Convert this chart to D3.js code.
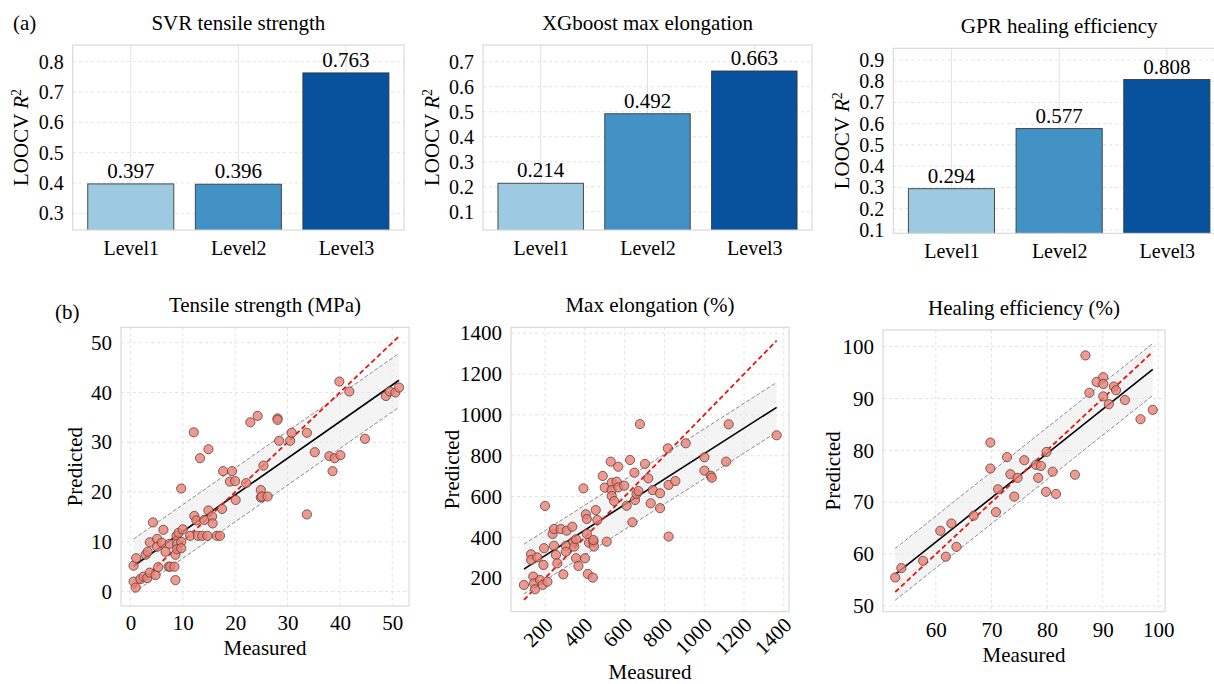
<!DOCTYPE html>
<meta charset="utf-8">
<script src="https://cdn.jsdelivr.net/npm/d3@7"></script>
<style>
body{margin:0;background:#fff;}
svg{font-family:"Liberation Serif","Times New Roman",serif;}
.title{font-size:21px;text-anchor:middle;fill:#000;}
.axis-label{font-size:21px;text-anchor:middle;fill:#000;}
.val{font-size:21px;text-anchor:middle;fill:#000;}
.tag{font-size:21px;fill:#000;}
</style>
<body>
<div id="vis"></div>
<script>

// ---- (a) LOOCV R2 by level ----
var levels = ["Level1", "Level2", "Level3"];
var svrTensile = [0.397, 0.396, 0.763];
var xgbElongation = [0.214, 0.492, 0.663];
var gprHealing = [0.294, 0.577, 0.808];
var barColors = ["#9ecae1", "#4292c6", "#08519c"];

var ticksA1 = [0.3, 0.4, 0.5, 0.6, 0.7, 0.8];
var ticksA2 = [0.1, 0.2, 0.3, 0.4, 0.5, 0.6, 0.7];
var ticksA3 = [0.1, 0.2, 0.3, 0.4, 0.5, 0.6, 0.7, 0.8, 0.9];

// ---- (b) measured vs predicted ----
var tensileMeasured = [0.6,1.1,0.6,1.0,1.9,2.5,3.2,3.7,2.9,3.3,3.7,4.3,4.8,5.1,5.1,5.3,6.0,6.3,6.7,7.3,7.6,7.5,8.4,8.6,8.6,8.8,8.9,8.9,9.2,9.7,9.7,9.7,10.0,11.4,12.1,12.2,12.6,12.9,13.3,13.7,14.1,14.7,14.9,14.9,15.6,15.7,16.5,17.1,17.5,17.7,19.0,19.4,20.0,20.1,22.1,22.9,24.3,24.9,24.9,25.1,25.4,26.2,28.1,28.1,28.4,30.5,30.8,33.7,33.7,35.2,38.0,38.6,39.0,39.9,40.1,41.8,44.8,48.8,49.5,50.6,51.3];
var tensilePredicted = [5.2,6.7,2.0,0.8,2.5,3.0,2.7,3.8,7.4,8.0,9.9,13.9,3.3,10.6,9.0,4.9,9.8,12.4,8.0,5.0,5.0,9.6,5.0,7.4,2.3,11.2,9.6,8.5,11.8,10.0,8.7,20.7,12.5,11.2,32.0,15.2,14.3,11.2,26.8,11.2,14.4,11.2,28.6,16.3,15.1,13.7,11.2,11.2,16.6,24.2,22.1,24.2,22.2,18.4,21.8,34.0,35.3,20.4,18.9,19.1,25.3,19.1,34.8,34.5,30.3,30.3,31.9,31.9,15.5,28.0,27.2,24.2,26.8,42.2,27.4,40.2,30.7,39.3,40.2,40.0,41.0];
var tensileFit = [0.736, 4.7, 5.4];   // slope, intercept, band half width

var elongMeasured = [94,130,130,161,141,145,150,175,192,195,188,212,200,238,245,245,255,262,279,292,305,305,309,337,342,347,356,356,368,393,401,405,410,410,415,421,440,443,446,443,455,463,490,500,510,530,535,535,535,547,560,568,568,598,610,627,639,649,652,660,669,677,702,719,731,741,778,778,817,821,821,855,907,1001,1001,1033,1038,1110,1123,1364];
var elongPredicted = [167,317,289,302,208,175,146,191,265,347,167,183,554,417,441,359,314,273,441,219,359,330,433,452,379,355,391,298,260,640,298,513,490,417,221,374,203,379,355,387,534,485,701,644,379,771,668,632,603,578,673,746,645,653,555,779,474,717,583,613,627,955,760,689,567,632,616,543,836,657,404,676,861,792,727,702,692,771,954,900];
var elongFit = [0.624, 186, 122];

var healMeasured = [52.7,53.8,57.7,60.8,61.8,62.8,63.7,66.8,69.8,69.8,70.8,71.2,72.8,73.4,74.1,74.7,75.9,78.0,78.4,78.9,79.8,79.9,81.0,81.6,85.0,86.9,87.6,88.9,90.1,90.1,90.1,91.1,92.0,92.4,94.0,96.8,99.0];
var healPredicted = [55.5,57.3,58.7,64.5,59.5,65.9,61.4,67.4,81.5,76.5,68.1,72.5,78.7,75.4,71.1,74.7,78.1,77.2,74.7,77.0,72.0,79.7,75.9,71.6,75.3,98.3,91.1,93.2,94.1,92.8,90.4,88.9,92.3,91.6,89.7,86.0,87.8];
var healFit = [0.853, 11.15, 5.0];

var ticksTensile = [0, 10, 20, 30, 40, 50];
var ticksElong = [200, 400, 600, 800, 1000, 1200, 1400];
var ticksHealX = [60, 70, 80, 90, 100];
var ticksHealY = [50, 60, 70, 80, 90, 100];

var W = 1214, H = 684;
var svg = d3.select("#vis").append("svg")
    .attr("width", W).attr("height", H);
svg.append("rect").attr("width", W).attr("height", H).attr("fill", "#fff");

var frameColor = "#d2d2d2", gridColor = "#e2e2e2";
var clipId = 0;

function addClip(l, t, r, b) {
  var id = "clip" + (clipId++);
  svg.append("clipPath").attr("id", id)
    .append("rect").attr("x", l).attr("y", t).attr("width", r - l).attr("height", b - t);
  return "url(#" + id + ")";
}

function styleAxis(g, size) {
  g.select(".domain").remove();
  g.attr("font-family", null);
  g.selectAll("text").attr("font-size", size).attr("fill", "#000");
}

function yLabelR2(cx, cy) {
  var t = svg.append("text").attr("class", "axis-label")
    .attr("transform", "translate(" + cx + "," + cy + ") rotate(-90)")
    .attr("dy", "0.35em");
  t.append("tspan").text("LOOCV ");
  t.append("tspan").attr("font-style", "italic").text("R");
  t.append("tspan").attr("font-size", 14).attr("dy", "-0.55em").text("2");
}

function barPanel(p) {
  var x = d3.scaleLinear().domain([-0.54, 2.54]).range([p.left, p.right]);
  var y = d3.scaleLinear().domain(p.ydom).range([p.bottom, p.top]);
  var g = svg.append("g");

  // grid
  g.selectAll(".gy").data(p.yticks).enter().append("line")
    .attr("x1", p.left).attr("x2", p.right)
    .attr("y1", function(d) { return y(d); }).attr("y2", function(d) { return y(d); })
    .attr("stroke", gridColor).attr("stroke-dasharray", "3,3");
  g.selectAll(".gx").data(levels).enter().append("line")
    .attr("x1", function(d, i) { return x(i); }).attr("x2", function(d, i) { return x(i); })
    .attr("y1", p.top).attr("y2", p.bottom)
    .attr("stroke", gridColor);

  // bars
  g.append("g").attr("clip-path", addClip(p.left, p.top, p.right, p.bottom))
    .selectAll("rect").data(p.values).enter().append("rect")
    .attr("x", function(d, i) { return x(i - 0.4); })
    .attr("width", x(0.4) - x(-0.4))
    .attr("y", function(d) { return y(d); })
    .attr("height", function(d) { return p.bottom + 5 - y(d); })
    .attr("fill", function(d, i) { return barColors[i]; })
    .attr("stroke", "#3a3a3a").attr("stroke-width", 0.9);

  g.selectAll(".val").data(p.values).enter().append("text")
    .attr("class", "val")
    .attr("x", function(d, i) { return x(i); })
    .attr("y", function(d) { return y(d) - 6; })
    .text(function(d) { return d3.format(".3f")(d); });

  g.append("rect").attr("x", p.left).attr("y", p.top)
    .attr("width", p.right - p.left).attr("height", p.bottom - p.top)
    .attr("fill", "none").attr("stroke", frameColor);

  var ax = g.append("g").attr("transform", "translate(0," + p.bottom + ")")
    .call(d3.axisBottom(x).tickValues([0, 1, 2]).tickSize(0).tickPadding(11)
      .tickFormat(function(i) { return levels[i]; }));
  styleAxis(ax, 20);
  var ay = g.append("g").attr("transform", "translate(" + p.left + ",0)")
    .call(d3.axisLeft(y).tickValues(p.yticks).tickSize(0).tickPadding(9).tickFormat(d3.format(".1f")));
  styleAxis(ay, 20);

  svg.append("text").attr("class", "title")
    .attr("x", (p.left + p.right) / 2)
    .attr("y", p.top - 15).text(p.title);
  yLabelR2(p.ylx, (p.top + p.bottom) / 2);
}

function scatterPanel(p) {
  var x = d3.scaleLinear().domain(p.xdom).range([p.left, p.right]);
  var y = d3.scaleLinear().domain(p.ydom).range([p.bottom, p.top]);
  var g = svg.append("g");

  g.selectAll(".gx").data(p.xticks).enter().append("line")
    .attr("x1", function(d) { return x(d); }).attr("x2", function(d) { return x(d); })
    .attr("y1", p.top).attr("y2", p.bottom)
    .attr("stroke", gridColor).attr("stroke-dasharray", "3,3");
  g.selectAll(".gy").data(p.yticks).enter().append("line")
    .attr("x1", p.left).attr("x2", p.right)
    .attr("y1", function(d) { return y(d); }).attr("y2", function(d) { return y(d); })
    .attr("stroke", gridColor).attr("stroke-dasharray", "3,3");

  var inner = g.append("g").attr("clip-path", addClip(p.left, p.top, p.right, p.bottom));
  var ext = d3.extent(p.measured);
  var fit = function(v) { return p.fit[0] * v + p.fit[1]; };

  // prediction band
  inner.append("path").datum(ext)
    .attr("d", d3.area().x(function(d) { return x(d); })
      .y0(function(d) { return y(fit(d) - p.fit[2]); })
      .y1(function(d) { return y(fit(d) + p.fit[2]); }))
    .attr("fill", "#e6e6e6").attr("fill-opacity", 0.45);
  [-1, 1].forEach(function(s) {
    inner.append("path").datum(ext)
      .attr("d", d3.line().x(function(d) { return x(d); })
        .y(function(d) { return y(fit(d) + s * p.fit[2]); }))
      .attr("fill", "none").attr("stroke", "#8a8a8a").attr("stroke-width", 1)
      .attr("stroke-dasharray", "4,2");
  });
  // fit line
  inner.append("path").datum(ext)
    .attr("d", d3.line().x(function(d) { return x(d); }).y(function(d) { return y(fit(d)); }))
    .attr("fill", "none").attr("stroke", "#000").attr("stroke-width", 1.6);
  // y = x
  inner.append("path").datum(ext)
    .attr("d", d3.line().x(function(d) { return x(d); }).y(function(d) { return y(d); }))
    .attr("fill", "none").attr("stroke", "#e8150f").attr("stroke-width", 1.8)
    .attr("stroke-dasharray", "5,3");

  inner.selectAll("circle").data(p.measured).enter().append("circle")
    .attr("cx", function(d) { return x(d); })
    .attr("cy", function(d, i) { return y(p.predicted[i]); })
    .attr("r", 4.6)
    .attr("fill", "#ec7f72").attr("fill-opacity", 0.8)
    .attr("stroke", "#5a4040").attr("stroke-width", 0.8);

  g.append("rect").attr("x", p.left).attr("y", p.top)
    .attr("width", p.right - p.left).attr("height", p.bottom - p.top)
    .attr("fill", "none").attr("stroke", frameColor);

  var ax = g.append("g").attr("transform", "translate(0," + p.bottom + ")")
    .call(d3.axisBottom(x).tickValues(p.xticks).tickSize(0).tickPadding(p.xpad).tickFormat(d3.format("d")));
  styleAxis(ax, 21);
  if (p.rotate) {
    ax.selectAll("text").attr("text-anchor", "end")
      .attr("transform", "rotate(-45)").attr("dx", "-0.2em").attr("dy", "0.5em");
  }
  var ay = g.append("g").attr("transform", "translate(" + p.left + ",0)")
    .call(d3.axisLeft(y).tickValues(p.yticks).tickSize(0).tickPadding(9).tickFormat(d3.format("d")));
  styleAxis(ay, 21);

  svg.append("text").attr("class", "title")
    .attr("x", (p.left + p.right) / 2).attr("y", p.top - 15).text(p.title);
  svg.append("text").attr("class", "axis-label")
    .attr("x", (p.left + p.right) / 2).attr("y", p.xly).text("Measured");
  svg.append("text").attr("class", "axis-label")
    .attr("transform", "translate(" + p.ylx + "," + (p.top + p.bottom) / 2 + ") rotate(-90)")
    .attr("dy", "0.35em").text("Predicted");
}

barPanel({title: "SVR tensile strength", values: svrTensile, yticks: ticksA1,
  left: 72.7, right: 404, top: 45, bottom: 230, ydom: [0.245, 0.855], ylx: 21});
barPanel({title: "XGboost max elongation", values: xgbElongation, yticks: ticksA2,
  left: 483, right: 812, top: 45, bottom: 230, ydom: [0.027, 0.767], ylx: 432});
barPanel({title: "GPR healing efficiency", values: gprHealing, yticks: ticksA3,
  left: 893.3, right: 1225, top: 48.3, bottom: 233.3, ydom: [0.084, 0.955], ylx: 842});

scatterPanel({title: "Tensile strength (MPa)", measured: tensileMeasured, predicted: tensilePredicted,
  fit: tensileFit, xticks: ticksTensile, yticks: ticksTensile,
  left: 121, right: 409, top: 327.3, bottom: 606, xdom: [-1.8, 53.2], ydom: [-2.9, 53.1],
  xpad: 9, xly: 655, ylx: 75});
scatterPanel({title: "Max elongation (%)", measured: elongMeasured, predicted: elongPredicted,
  fit: elongFit, xticks: ticksElong, yticks: ticksElong, rotate: true,
  left: 511, right: 789, top: 327.3, bottom: 611.7, xdom: [29, 1426], ydom: [36, 1429],
  xpad: 6, xly: 679, ylx: 452});
scatterPanel({title: "Healing efficiency (%)", measured: healMeasured, predicted: healPredicted,
  fit: healFit, xticks: ticksHealX, yticks: ticksHealY,
  left: 883, right: 1165, top: 330, bottom: 611.7, xdom: [50.5, 101.2], ydom: [48.9, 103.2],
  xpad: 10, xly: 662, ylx: 833});

svg.append("text").attr("class", "tag").attr("x", 13).attr("y", 30).text("(a)");
svg.append("text").attr("class", "tag").attr("x", 55).attr("y", 319).text("(b)");

</script>
